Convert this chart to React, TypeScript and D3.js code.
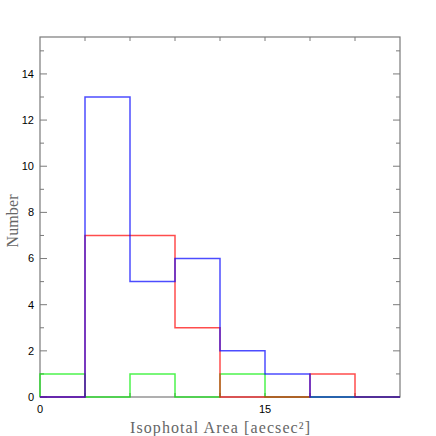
import React, { useRef, useEffect } from "react";
import * as d3 from "d3";

// bin edges (arcsec^2) and counts per sample
const binEdges = [0, 3, 6, 9, 12, 15, 18, 21, 24];
const greenCounts = [1, 0, 1, 0, 1, 0, 0, 0];
const redCounts = [0, 7, 7, 3, 0, 0, 1, 0];
const blueCounts = [0, 13, 5, 6, 2, 1, 0, 0];
const xTickLabels = [0, 15];
const yTickLabels = [0, 2, 4, 6, 8, 10, 12, 14];

const App = () => {
  const svgRef = useRef<SVGSVGElement>(null);

  useEffect(() => {
    const svg = d3.select(svgRef.current);
    svg.selectAll("*").remove();

    const width = 436;
    const height = 436;
    const left = 40, right = 400, top = 37, bottom = 397;
    const axisColor = "#7a7a7a";

    const x = d3.scaleLinear().domain([0, 24]).range([left, right]);
    const y = d3.scaleLinear().domain([0, 15.6]).range([bottom, top]);

    svg.attr("width", width).attr("height", height);

    // box
    svg.append("rect")
      .attr("x", left).attr("y", top)
      .attr("width", right - left).attr("height", bottom - top)
      .attr("fill", "none").attr("stroke", axisColor).attr("stroke-width", 1.2);

    // y ticks, both sides, pointing in
    const yMinor = d3.range(1, 16, 2);
    const tickG = svg.append("g").attr("stroke", axisColor).attr("stroke-width", 1);
    yTickLabels.forEach(v => {
      tickG.append("line").attr("x1", left).attr("x2", left + 7).attr("y1", y(v)).attr("y2", y(v));
      tickG.append("line").attr("x1", right).attr("x2", right - 7).attr("y1", y(v)).attr("y2", y(v));
    });
    yMinor.forEach(v => {
      tickG.append("line").attr("x1", left).attr("x2", left + 4).attr("y1", y(v)).attr("y2", y(v));
      tickG.append("line").attr("x1", right).attr("x2", right - 4).attr("y1", y(v)).attr("y2", y(v));
    });
    // x ticks every bin edge
    binEdges.slice(1, -1).forEach(v => {
      tickG.append("line").attr("x1", x(v)).attr("x2", x(v)).attr("y1", top).attr("y2", top + 4);
      tickG.append("line").attr("x1", x(v)).attr("x2", x(v)).attr("y1", bottom).attr("y2", bottom - 4);
    });

    svg.append("g")
      .selectAll("text")
      .data(yTickLabels)
      .enter()
      .append("text")
      .attr("x", left - 6)
      .attr("y", d => y(d))
      .attr("dy", "0.35em")
      .attr("text-anchor", "end")
      .style("font-family", "Liberation Sans, Arial, sans-serif")
      .style("font-size", "11px")
      .attr("fill", "#000")
      .text(d => d);

    svg.append("g")
      .selectAll("text")
      .data(xTickLabels)
      .enter()
      .append("text")
      .attr("x", d => x(d))
      .attr("y", bottom + 16)
      .attr("text-anchor", "middle")
      .style("font-family", "Liberation Sans, Arial, sans-serif")
      .style("font-size", "11px")
      .attr("fill", "#000")
      .text(d => d);

    // step histograms
    const stepLine = (counts: number[]) => {
      const pts: [number, number][] = [[binEdges[0], 0]];
      counts.forEach((c, i) => {
        pts.push([binEdges[i], c]);
        pts.push([binEdges[i + 1], c]);
      });
      pts.push([binEdges[binEdges.length - 1], 0]);
      return d3.line<[number, number]>().x(d => x(d[0])).y(d => y(d[1]))(pts);
    };

    const series = [
      { counts: greenCounts, color: "#00ee00" },
      { counts: redCounts, color: "#ff0000" },
      { counts: blueCounts, color: "#0000ff" },
    ];

    svg.append("g")
      .selectAll("path")
      .data(series)
      .enter()
      .append("path")
      .attr("d", d => stepLine(d.counts))
      .attr("fill", "none")
      .attr("stroke", d => d.color)
      .attr("stroke-opacity", 0.7)
      .attr("stroke-width", 1.5);

    // axis titles
    svg.append("text")
      .attr("x", 220)
      .attr("y", 433)
      .attr("text-anchor", "middle")
      .attr("textLength", 180)
      .attr("lengthAdjust", "spacing")
      .style("font-family", "Liberation Serif, serif")
      .style("font-size", "16px")
      .attr("fill", "#666")
      .text("Isophotal Area [aecsec²]");

    svg.append("text")
      .attr("transform", "translate(18,221) rotate(-90)")
      .attr("text-anchor", "middle")
      .attr("textLength", 53)
      .attr("lengthAdjust", "spacing")
      .style("font-family", "Liberation Serif, serif")
      .style("font-size", "16px")
      .attr("fill", "#666")
      .text("Number");
  }, []);

  return (
    <svg
      ref={svgRef}
      style={{ position: "absolute", left: 0, top: 0, display: "block" }}
    ></svg>
  );
};

export default App;
